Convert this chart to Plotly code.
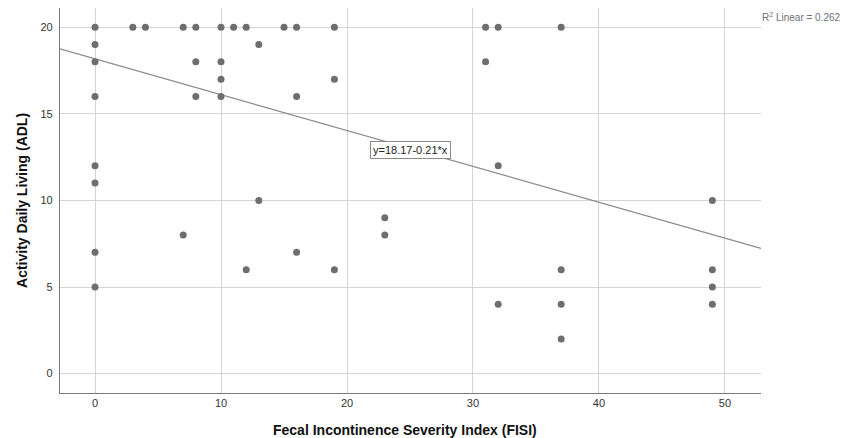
import plotly.graph_objects as go

# Data: (FISI, ADL) points
fisi = [0, 3, 4, 7, 8, 10, 11, 12, 15, 16, 19, 31, 32, 37,
        0, 13,
        0, 8, 10, 31,
        10, 19,
        0, 8, 10, 16,
        0, 32,
        0,
        13, 49,
        23,
        7, 23,
        0, 16,
        12, 19, 37, 49,
        0, 49,
        32, 37, 49,
        37]
adl = [20, 20, 20, 20, 20, 20, 20, 20, 20, 20, 20, 20, 20, 20,
       19, 19,
       18, 18, 18, 18,
       17, 17,
       16, 16, 16, 16,
       12, 12,
       11,
       10, 10,
       9,
       8, 8,
       7, 7,
       6, 6, 6, 6,
       5, 5,
       4, 4, 4,
       2]

intercept = 18.17
slope = -0.207
x_range = [-2.78, 52.86]
y_range = [-1.12, 21.11]
x_ticks = [0, 10, 20, 30, 40, 50]
y_ticks = [0, 5, 10, 15, 20]
eq_label = "y=18.17-0.21*x"
r2_label = "R<sup>2</sup> Linear = 0.262"
x_title = "<b>Fecal Incontinence Severity Index (FISI)</b>"
y_title = "<b>Activity Daily Living (ADL)</b>"

font = "Liberation Sans, Arial, sans-serif"

fig = go.Figure()
fig.add_trace(go.Scatter(
    x=x_range, y=[intercept + slope * v for v in x_range],
    mode="lines", line=dict(color="#8a8a8a", width=1.2),
    hoverinfo="skip", showlegend=False))
fig.add_trace(go.Scatter(
    x=fisi, y=adl, mode="markers",
    marker=dict(color="#6e6e6e", size=7, line=dict(width=0)),
    showlegend=False))

fig.add_annotation(x=25, y=12.9, text=eq_label, showarrow=False,
                   font=dict(family=font, size=11, color="#222222"),
                   bgcolor="white", bordercolor="#8a8a8a", borderwidth=1,
                   borderpad=2)
fig.add_annotation(xref="paper", yref="paper", x=1.0, y=0.976,
                   xanchor="left", yanchor="middle", text=r2_label,
                   showarrow=False, xshift=-1,
                   font=dict(family=font, size=10, color="#707070"))
fig.add_annotation(xref="paper", yref="paper", x=0.492, y=-0.096,
                   xanchor="center", yanchor="middle", text=x_title,
                   showarrow=False,
                   font=dict(family=font, size=14, color="#111111"))
fig.add_annotation(xref="paper", yref="paper", x=-0.055, y=0.5,
                   xanchor="center", yanchor="middle", text=y_title,
                   textangle=-90, showarrow=False,
                   font=dict(family=font, size=14, color="#111111"))

fig.update_layout(
    width=846, height=438,
    margin=dict(l=60, r=85, t=8, b=45, autoexpand=False),
    paper_bgcolor="white", plot_bgcolor="white",
    font=dict(family=font, size=11, color="#333333"),
    xaxis=dict(range=x_range, tickvals=x_ticks, showgrid=True,
               gridcolor="#d4d4d4", gridwidth=1.3, zeroline=False,
               showline=True, linecolor="#7a7a7a", linewidth=1.3,
               ticks="", ticklen=0, automargin=False,
               tickfont=dict(family=font, size=11, color="#333333")),
    yaxis=dict(range=y_range, tickvals=y_ticks, showgrid=True,
               gridcolor="#d4d4d4", gridwidth=1.3, zeroline=False,
               showline=True, linecolor="#7a7a7a", linewidth=1.3,
               ticks="outside", ticklen=4, tickcolor="white",
               automargin=False,
               tickfont=dict(family=font, size=11, color="#333333")),
)

fig.write_html("out.html",
               config={"displayModeBar": False},
               post_script="document.body.style.margin='0';"
                           "document.body.style.overflow='hidden';")
